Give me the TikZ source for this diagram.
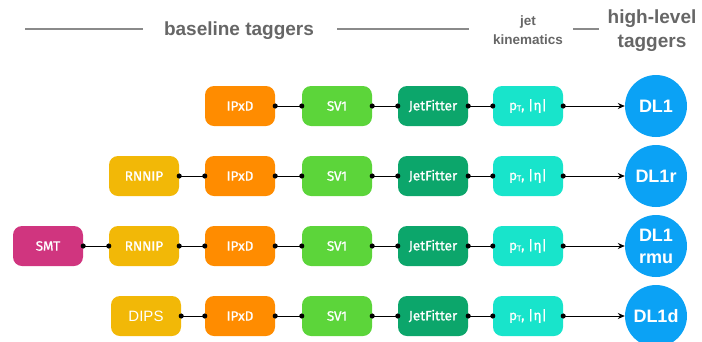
\documentclass[tikz,border=0pt]{standalone}
\usepackage{fontspec}
\setmainfont{Liberation Sans}
\newfontfamily\boxfont{Fira Sans}[FakeBold=0.9]
\usetikzlibrary{arrows.meta}

\definecolor{hdrgray}{HTML}{666666}
\definecolor{rulegray}{HTML}{8A8A8A}
\definecolor{smtcol}{HTML}{D0357F}
\definecolor{rnnipcol}{HTML}{F2B807}
\definecolor{ipxdcol}{HTML}{FF8C00}
\definecolor{svcol}{HTML}{5CD53A}
\definecolor{jfcol}{HTML}{0CA66B}
\definecolor{kincol}{HTML}{18E4CB}
\definecolor{dlcol}{HTML}{0BA2F5}

\tikzset{
  tagger/.style={rectangle, rounded corners=9pt, minimum width=70pt, minimum height=40pt,
    text=white, font=\boxfont\fontsize{13.5}{13.5}\selectfont, inner sep=0pt},
  highlevel/.style={circle, fill=dlcol, minimum size=62pt, inner sep=0pt, text=white,
    align=center, font=\bfseries\fontsize{18}{20}\selectfont},
  header/.style={text=hdrgray, font=\bfseries, align=center},
  link/.style={line width=1pt, {Circle[length=5pt]}-{Circle[length=5pt]},
    shorten <=-2.5pt, shorten >=-2.5pt},
  feed/.style={line width=1pt, {Circle[length=5pt]}-{Stealth[length=7pt,width=6pt]},
    shorten <=-2.5pt},
}

\newcommand{\ptEta}{p\raisebox{-1pt}{\fontsize{8}{8}\selectfont T}, |η|}

\begin{document}
\begin{tikzpicture}[x=1pt,y=-1pt]
  \useasboundingbox (0,0) rectangle (702,341);

  % headings
  \draw[rulegray, line width=1.2pt] (25,29) -- (143,29);
  \draw[rulegray, line width=1.2pt] (337,29) -- (469,29);
  \draw[rulegray, line width=1.2pt] (573,29) -- (599,29);
  \node[header, font=\bfseries\fontsize{19}{22}\selectfont] (hbase) at (239,31) {baseline taggers};
  \node[header, font=\bfseries\fontsize{13.5}{19}\selectfont] (hkin) at (528,30) {jet\\kinematics};
  \node[header, font=\bfseries\fontsize{19}{24}\selectfont] (hhigh) at (652,31) {high-level\\taggers};

  % DL1
  \node[tagger, fill=ipxdcol] (ipA) at (240,106) {IPxD};
  \node[tagger, fill=svcol] (svA) at (337,106) {SV1};
  \node[tagger, fill=jfcol] (jfA) at (433,106) {JetFitter};
  \node[tagger, fill=kincol] (kinA) at (528,106) {\ptEta};
  \node[highlevel] (dlA) at (656,106) {DL1};
  \draw[link] (ipA) -- (svA);
  \draw[link] (svA) -- (jfA);
  \draw[link] (jfA) -- (kinA);
  \draw[feed] (kinA) -- (dlA);

  % DL1r
  \node[tagger, fill=rnnipcol] (rnB) at (144,176) {RNNIP};
  \node[tagger, fill=ipxdcol] (ipB) at (240,176) {IPxD};
  \node[tagger, fill=svcol] (svB) at (337,176) {SV1};
  \node[tagger, fill=jfcol] (jfB) at (433,176) {JetFitter};
  \node[tagger, fill=kincol] (kinB) at (528,176) {\ptEta};
  \node[highlevel] (dlB) at (656,176) {DL1r};
  \draw[link] (rnB) -- (ipB);
  \draw[link] (ipB) -- (svB);
  \draw[link] (svB) -- (jfB);
  \draw[link] (jfB) -- (kinB);
  \draw[feed] (kinB) -- (dlB);

  % DL1rmu
  \node[tagger, fill=smtcol] (smC) at (48,246) {SMT};
  \node[tagger, fill=rnnipcol] (rnC) at (144,246) {RNNIP};
  \node[tagger, fill=ipxdcol] (ipC) at (240,246) {IPxD};
  \node[tagger, fill=svcol] (svC) at (337,246) {SV1};
  \node[tagger, fill=jfcol] (jfC) at (433,246) {JetFitter};
  \node[tagger, fill=kincol] (kinC) at (528,246) {\ptEta};
  \node[highlevel, font=\bfseries\fontsize{18}{22}\selectfont] (dlC) at (656,246) {DL1\\rmu};
  \draw[link] (smC) -- (rnC);
  \draw[link] (rnC) -- (ipC);
  \draw[link] (ipC) -- (svC);
  \draw[link] (svC) -- (jfC);
  \draw[link] (jfC) -- (kinC);
  \draw[feed] (kinC) -- (dlC);

  % DL1d
  \node[tagger, fill=rnnipcol, font=\fontsize{15}{15}\selectfont] (dpD) at (146,316) {DIPS};
  \node[tagger, fill=ipxdcol] (ipD) at (240,316) {IPxD};
  \node[tagger, fill=svcol] (svD) at (337,316) {SV1};
  \node[tagger, fill=jfcol] (jfD) at (433,316) {JetFitter};
  \node[tagger, fill=kincol] (kinD) at (528,316) {\ptEta};
  \node[highlevel] (dlD) at (656,316) {DL1d};
  \draw[link] (dpD) -- (ipD);
  \draw[link] (ipD) -- (svD);
  \draw[link] (svD) -- (jfD);
  \draw[link] (jfD) -- (kinD);
  \draw[feed] (kinD) -- (dlD);
\end{tikzpicture}
\end{document}
